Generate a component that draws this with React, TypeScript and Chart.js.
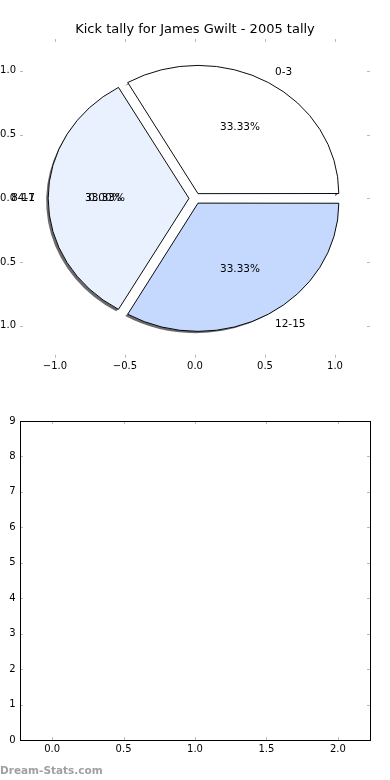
import React, { useEffect, useRef } from 'react';
import { Chart, registerables } from 'chart.js';

Chart.register(...registerables);

const FONT = '"DejaVu Sans", sans-serif';

// ---- data ----
const chartTitle = 'Kick tally for James Gwilt - 2005 tally';
const categories = ['0-3', '4-7', '8-11', '12-15'];
const kicks = [1, 1, 0, 1];
const sliceColors = ['#ffffff', '#eaf1fe', '#d8e5fe', '#c5d9fe'];
const pieAxisTicks = [-1, -0.5, 0, 0.5, 1];
const pieAxisMin = -1.25;
const pieAxisMax = 1.25;
const explode = 0.043;
const labelDistance = 1.1;
const pctDistance = 0.6;
const shadowShift = 0.02;

const emptyXTicks = [0, 0.5, 1, 1.5, 2];
const emptyYTicks = [0, 1, 2, 3, 4, 5, 6, 7, 8, 9];
const emptyXMin = -0.225;
const emptyXMax = 2.225;
const emptyYMin = 0;
const emptyYMax = 9;

const watermark = 'Dream-Stats.com';

// ---- helpers ----
const fmtTick = (v: number) => {
  const s = Math.abs(v).toFixed(1);
  return v < 0 ? '\u2212' + s : s;
};

function tickMarks(frame: boolean) {
  return {
    id: 'tickMarks',
    afterDraw(chart: any) {
      const { ctx, chartArea: a, scales } = chart;
      const len = 3;
      ctx.save();
      ctx.strokeStyle = '#b8b8b8';
      ctx.lineWidth = 1;
      ctx.beginPath();
      scales.x.ticks.forEach((t: any) => {
        const p = Math.round(scales.x.getPixelForValue(t.value)) + 0.5;
        ctx.moveTo(p, a.top);
        ctx.lineTo(p, a.top + len);
        ctx.moveTo(p, a.bottom);
        ctx.lineTo(p, a.bottom - len);
      });
      scales.y.ticks.forEach((t: any) => {
        const p = Math.round(scales.y.getPixelForValue(t.value)) + 0.5;
        ctx.moveTo(a.left, p);
        ctx.lineTo(a.left + len, p);
        ctx.moveTo(a.right, p);
        ctx.lineTo(a.right - len, p);
      });
      ctx.stroke();
      if (frame) {
        ctx.strokeStyle = '#000';
        ctx.lineWidth = 1;
        const l = Math.round(a.left) + 0.5;
        const t = Math.round(a.top) + 0.5;
        ctx.strokeRect(l, t, Math.round(a.right) - Math.round(a.left), Math.round(a.bottom) - Math.round(a.top));
      }
      ctx.restore();
    },
  };
}

function pieDecor(R: number, sy: number) {
  const arcsOf = (chart: any) => chart.getDatasetMeta(0).data as any[];
  return {
    id: 'pieDecor',
    beforeDatasetsDraw(chart: any) {
      const ctx = chart.ctx;
      const arcs = arcsOf(chart);
      const cx = arcs[0].x;
      const cy = arcs[0].y;
      ctx.save();
      ctx.translate(cx, cy);
      ctx.scale(1, sy);
      ctx.translate(-cx, -cy);
      ctx.fillStyle = 'rgba(70,70,70,0.8)';
      arcs.forEach((arc: any) => {
        if (!(arc.circumference > 0)) return;
        const mid = (arc.startAngle + arc.endAngle) / 2;
        const off = (arc.options.offset || 0) / 4;
        const ox = cx + Math.cos(mid) * off;
        const oy = cy + Math.sin(mid) * off;
        const dx = -shadowShift * R;
        const dy = shadowShift * R;
        ctx.beginPath();
        ctx.arc(ox + dx, oy + dy, arc.outerRadius, arc.startAngle, arc.endAngle);
        ctx.arc(ox, oy, arc.outerRadius, arc.endAngle, arc.startAngle, true);
        ctx.closePath();
        ctx.fill();
      });
    },
    afterDatasetsDraw(chart: any) {
      chart.ctx.restore();
    },
    afterDraw(chart: any) {
      const ctx = chart.ctx;
      const arcs = arcsOf(chart);
      const cx = arcs[0].x;
      const cy = arcs[0].y;
      const values: number[] = chart.data.datasets[0].data;
      const labels: string[] = chart.data.labels;
      const total = values.reduce((s, v) => s + v, 0);
      ctx.save();
      ctx.fillStyle = '#000';
      ctx.font = '10.5px ' + FONT;
      ctx.textBaseline = 'middle';
      arcs.forEach((arc: any, i: number) => {
        let ref = arc;
        if (!(arc.circumference > 0)) {
          for (let j = i + 1; j < arcs.length; j++) {
            if (arcs[j].circumference > 0) {
              ref = arcs[j];
              break;
            }
          }
        }
        const mid = (ref.startAngle + ref.endAngle) / 2;
        const c = Math.cos(mid);
        const s = Math.sin(mid);
        const e = explode * R;
        const lr = e + labelDistance * R;
        ctx.textAlign = c >= 0 ? 'left' : 'right';
        ctx.fillText(labels[i], cx + c * lr, cy + s * lr * sy);
        const pr = e + pctDistance * R;
        ctx.textAlign = 'center';
        const pct = ((values[i] / total) * 100).toFixed(2) + '%';
        ctx.fillText(pct, cx + c * pr, cy + s * pr * sy);
      });
      ctx.restore();
    },
  };
}

export default function App() {
  const topRef = useRef<HTMLCanvasElement>(null);
  const pieRef = useRef<HTMLCanvasElement>(null);
  const botRef = useRef<HTMLCanvasElement>(null);

  useEffect(() => {
    const W = 400;
    const H = 380;
    const tickFont = { family: FONT, size: 10 };
    const titleTop = 22;
    const titleBottom = 1.4;
    const titleSize = 13;
    const titleBlock = titleTop + titleSize * 1.2 + titleBottom;

    const axes = new Chart(topRef.current as HTMLCanvasElement, {
      type: 'scatter',
      data: { datasets: [] },
      options: {
        responsive: false,
        animation: false,
        events: [],
        layout: { padding: { left: 0, right: 20, top: titleBlock, bottom: 0 } },
        plugins: {
          legend: { display: false },
          tooltip: { enabled: false },
          title: { display: false },
        },
        scales: {
          x: {
            type: 'linear',
            min: pieAxisMin,
            max: pieAxisMax,
            grid: { display: false, drawTicks: false },
            border: { display: false },
            afterBuildTicks: (s: any) => {
              s.ticks = pieAxisTicks.map((v) => ({ value: v }));
            },
            afterFit: (s: any) => {
              s.height = 22.25;
            },
            ticks: {
              autoSkip: false,
              maxRotation: 0,
              padding: 3,
              color: '#000',
              font: tickFont,
              callback: (v: any) => fmtTick(Number(v)),
            },
          },
          y: {
            type: 'linear',
            min: pieAxisMin,
            max: pieAxisMax,
            grid: { display: false, drawTicks: false },
            border: { display: false },
            afterBuildTicks: (s: any) => {
              s.ticks = pieAxisTicks.map((v) => ({ value: v }));
            },
            afterFit: (s: any) => {
              s.width = 30;
            },
            ticks: {
              autoSkip: false,
              padding: 4,
              color: '#000',
              font: tickFont,
              callback: (v: any) => fmtTick(Number(v)),
            },
          },
        },
      } as any,
      plugins: [tickMarks(false)],
    });

    const ca = axes.chartArea;
    const xs: any = axes.scales.x;
    const ys: any = axes.scales.y;
    const R = xs.getPixelForValue(1) - xs.getPixelForValue(0);
    const sy = (ys.getPixelForValue(0) - ys.getPixelForValue(1)) / R;

    const order = categories.map((_, i) => categories.length - 1 - i);

    const pie = new Chart(pieRef.current as HTMLCanvasElement, {
      type: 'pie',
      data: {
        labels: order.map((i) => categories[i]),
        datasets: [
          {
            data: order.map((i) => kicks[i]),
            backgroundColor: order.map((i) => sliceColors[i]),
            borderColor: '#000',
            borderWidth: 1,
            borderJoinStyle: 'miter',
            offset: explode * R * 4,
            radius: R,
            rotation: 90,
          },
        ],
      },
      options: {
        responsive: false,
        animation: false,
        events: [],
        rotation: 90,
        layout: {
          padding: { left: ca.left, top: ca.top - titleBlock, right: W - ca.right, bottom: H - ca.bottom },
        },
        plugins: {
          legend: { display: false },
          tooltip: { enabled: false },
          title: {
            display: true,
            text: chartTitle,
            color: '#000',
            font: { family: FONT, size: titleSize, weight: 'normal', lineHeight: 1.2 },
            padding: { top: titleTop, bottom: titleBottom },
          },
        },
      } as any,
      plugins: [pieDecor(R, sy)],
    });

    const bottom = new Chart(botRef.current as HTMLCanvasElement, {
      type: 'scatter',
      data: { datasets: [] },
      options: {
        responsive: false,
        animation: false,
        events: [],
        layout: { padding: { left: 0, right: 20, top: 21, bottom: 0 } },
        plugins: {
          legend: { display: false },
          tooltip: { enabled: false },
          title: { display: false },
        },
        scales: {
          x: {
            type: 'linear',
            min: emptyXMin,
            max: emptyXMax,
            grid: { display: false, drawTicks: false },
            border: { display: false },
            afterBuildTicks: (s: any) => {
              s.ticks = emptyXTicks.map((v) => ({ value: v }));
            },
            afterFit: (s: any) => {
              s.height = 20;
            },
            ticks: {
              autoSkip: false,
              maxRotation: 0,
              padding: 3,
              color: '#000',
              font: tickFont,
              callback: (v: any) => Number(v).toFixed(1),
            },
          },
          y: {
            type: 'linear',
            min: emptyYMin,
            max: emptyYMax,
            grid: { display: false, drawTicks: false },
            border: { display: false },
            afterBuildTicks: (s: any) => {
              s.ticks = emptyYTicks.map((v) => ({ value: v }));
            },
            afterFit: (s: any) => {
              s.width = 20;
            },
            ticks: {
              autoSkip: false,
              padding: 4.5,
              color: '#000',
              font: tickFont,
              callback: (v: any) => String(Number(v)),
            },
          },
        },
      } as any,
      plugins: [tickMarks(true)],
    });

    return () => {
      pie.destroy();
      axes.destroy();
      bottom.destroy();
    };
  }, []);

  return (
    <div
      style={{
        position: 'fixed',
        left: 0,
        top: 0,
        width: 390,
        height: 780,
        overflow: 'hidden',
        background: '#fff',
      }}
    >
      <canvas ref={topRef} width={400} height={380} style={{ position: 'absolute', left: -10, top: 0 }} />
      <canvas ref={pieRef} width={400} height={380} style={{ position: 'absolute', left: -10, top: 0 }} />
      <canvas ref={botRef} width={390} height={360} style={{ position: 'absolute', left: 0, top: 400 }} />
      <div
        style={{
          position: 'absolute',
          left: 0,
          top: 762,
          font: 'bold 10.5px "DejaVu Sans", sans-serif',
          lineHeight: '16px',
          color: '#a0a0a0',
          whiteSpace: 'nowrap',
        }}
      >
        {watermark}
      </div>
    </div>
  );
}
